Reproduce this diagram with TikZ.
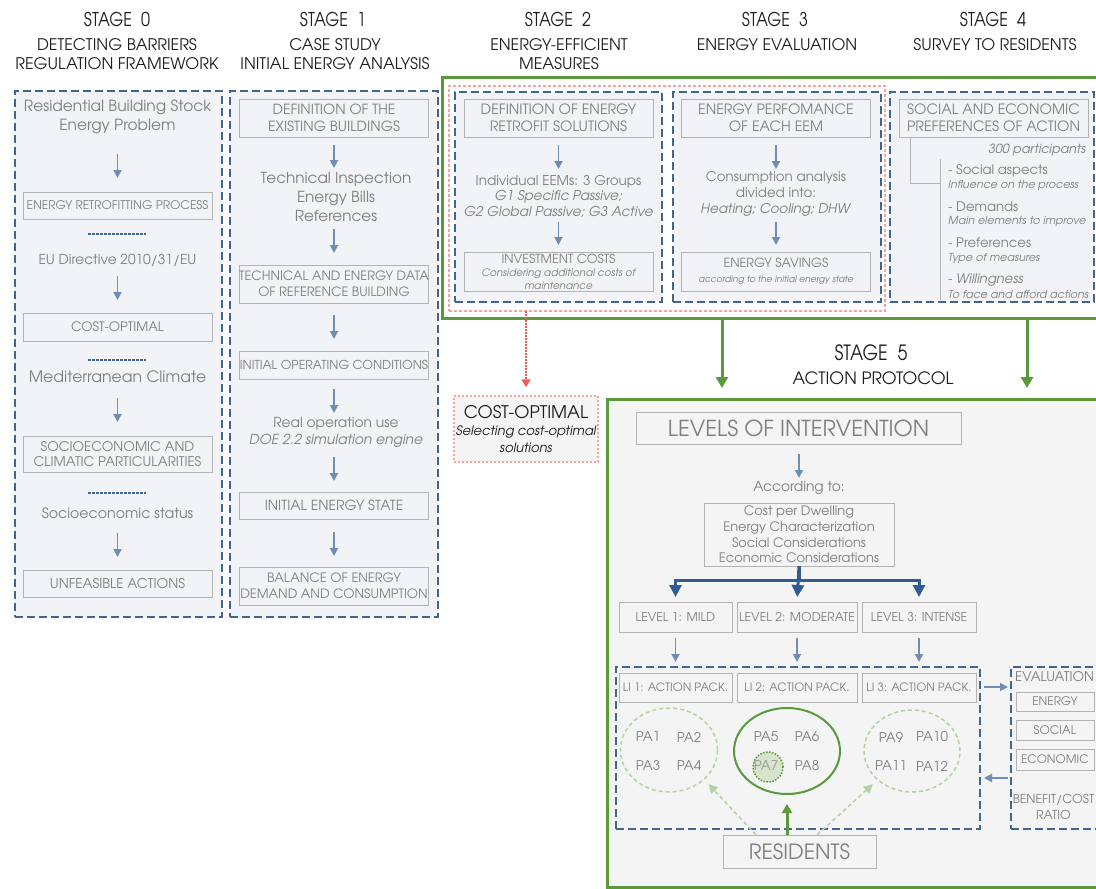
\documentclass[tikz,border=0pt]{standalone}
\usepackage{fontspec}
\setmainfont{TeX Gyre Adventor}
\newfontfamily\hdfont{TeX Gyre Adventor}[FakeStretch=0.85]
\usetikzlibrary{positioning,shapes.geometric,arrows.meta}

\newcommand{\fsz}[2]{\fontsize{#1}{#2}\selectfont}

\definecolor{panel}{HTML}{F2F3F7}
\definecolor{panelfive}{HTML}{F4F4F4}
\definecolor{dashblue}{HTML}{3F6591}
\definecolor{arrblue}{HTML}{6F8DB5}
\definecolor{forkblue}{HTML}{2F5D91}
\definecolor{grn}{HTML}{5A9A3C}
\definecolor{lightgrn}{HTML}{B5D1A3}
\definecolor{pagrn}{HTML}{D5E4CB}
\definecolor{salmon}{HTML}{F5A3A3}
\definecolor{redarr}{HTML}{F05A5A}
\definecolor{txt}{HTML}{7F7F7F}
\definecolor{boxline}{HTML}{B3B3B3}
\definecolor{ttl}{HTML}{1E1E1E}

\tikzset{
  panelbox/.style={draw=dashblue, line width=2pt, dash pattern=on 8pt off 4pt,
    fill=panel, inner sep=0pt, outer sep=0pt},
  ibox/.style={draw=boxline, line width=1pt, fill=panel, inner sep=0pt, outer sep=0pt,
    align=center, text=txt, minimum width=189pt, minimum height=27pt, font=\fsz{13}{15}},
  fivebox/.style={ibox, fill=panelfive},
  txtnode/.style={inner sep=0pt, outer sep=0pt, align=center, text=txt},
  stagehdr/.style={inner sep=0pt, align=center, text=ttl, font=\hdfont\fsz{19}{22}},
  stagesub/.style={inner sep=0pt, align=center, text=ttl, font=\fsz{16}{19}},
  sepline/.style={draw=dashblue, line width=1.2pt, dash pattern=on 2.5pt off 1.5pt},
  brk/.style={draw=boxline, line width=1pt},
  arr/.style={draw=arrblue, line width=1.8pt, -{Triangle[width=8pt,length=8pt]}},
  fork/.style={draw=forkblue, line width=3pt, -{Triangle[width=12pt,length=12pt]}},
  garr/.style={draw=grn, line width=3pt, -{Triangle[width=12pt,length=11pt]}},
  rarr/.style={draw=redarr, line width=1.5pt, dash pattern=on 1.5pt off 1.5pt,
    -{Triangle[width=9pt,length=8pt]}},
  larr/.style={draw=lightgrn, line width=1.5pt, dash pattern=on 4pt off 3pt,
    -{Triangle[width=9pt,length=9pt]}},
  pa/.style={inner sep=0pt, text=txt, font=\fsz{13.4}{15}},
  item/.style={inner sep=0pt, anchor=west, text=txt, font=\fsz{13.2}{15}},
  note/.style={inner sep=0pt, anchor=west, text=txt, font=\fsz{11}{12}\itshape},
}

\begin{document}
\begin{tikzpicture}[x=1pt,y=-1pt]
  \useasboundingbox (0,0) rectangle (1096,889);
  \clip (0,0) rectangle (1096,889);

  % stage titles
  \node[stagehdr] (h0) at (117,19) {STAGE\ \ 0};
  \node[stagesub] (h0s) at (117,54.5) {DETECTING BARRIERS\\REGULATION FRAMEWORK};
  \node[stagehdr] (h1) at (333,19) {STAGE\ \ 1};
  \node[stagesub] (h1s) at (335,54.5) {CASE STUDY\\INITIAL ENERGY ANALYSIS};
  \node[stagehdr] (h2) at (558,19) {STAGE\ \ 2};
  \node[stagesub] (h2s) at (559,54.5) {ENERGY-EFFICIENT\\MEASURES};
  \node[stagehdr] (h3) at (775,19) {STAGE\ \ 3};
  \node[stagesub] (h3s) at (777,45) {ENERGY EVALUATION};
  \node[stagehdr] (h4) at (993,19) {STAGE\ \ 4};
  \node[stagesub] (h4s) at (995,45) {SURVEY TO RESIDENTS};

  % stage 0
  \node[panelbox, minimum width=207pt, minimum height=526pt] (s0) at (118.5,354) {};
  \node[txtnode, font=\fsz{15.4}{19}, minimum height=40pt] (s0a) at (117.5,116.5)
    {Residential Building Stock\\Energy Problem};
  \node[ibox, font=\fsz{11.9}{13}] (s0b) at (117.5,205.5) {ENERGY RETROFITTING PROCESS};
  \draw[sepline] (88,234) -- (146,234);
  \node[txtnode, font=\fsz{13.7}{17}, minimum height=18pt] (s0c) at (117.5,260)
    {EU Directive 2010/31/EU};
  \node[ibox, minimum height=28pt] (s0d) at (117.5,327) {COST-OPTIMAL};
  \draw[sepline] (88,360) -- (146,360);
  \node[txtnode, font=\fsz{15.7}{19}, minimum height=20pt] (s0e) at (117.5,377)
    {Mediterranean Climate};
  \node[ibox, minimum height=36pt, font=\fsz{13.3}{15}] (s0f) at (117.5,454)
    {SOCIOECONOMIC AND\\CLIMATIC PARTICULARITIES};
  \draw[sepline] (88,493) -- (146,493);
  \node[txtnode, font=\fsz{14.2}{17}, minimum height=18pt] (s0g) at (117.5,513)
    {Socioeconomic status};
  \node[ibox, font=\fsz{13.5}{15}] (s0h) at (117.5,583.5) {UNFEASIBLE ACTIONS};
  \draw[arr, shorten <=17.5pt, shorten >=14pt] (s0a) -- (s0b);
  \draw[arr, shorten <=7pt, shorten >=13pt] (s0c) -- (s0d);
  \draw[arr, shorten <=11pt, shorten >=14pt] (s0e) -- (s0f);
  \draw[arr, shorten <=11pt, shorten >=13pt] (s0g) -- (s0h);

  % stage 1
  \node[panelbox, minimum width=208pt, minimum height=526pt] (s1) at (334,354) {};
  \node[ibox, minimum height=38pt, font=\fsz{14}{17}] (s1a) at (334,118)
    {DEFINITION OF THE\\EXISTING BUILDINGS};
  \node[txtnode, font=\fsz{15.2}{19}, minimum height=56pt] (s1b) at (336,197)
    {Technical Inspection\\Energy Bills\\References};
  \node[ibox, minimum height=38pt, font=\fsz{12.8}{16}] (s1c) at (334,284)
    {TECHNICAL AND ENERGY DATA\\OF REFERENCE BUILDING};
  \node[ibox, minimum height=28pt, font=\fsz{12.3}{14}] (s1d) at (334,365)
    {INITIAL OPERATING CONDITIONS};
  \node[txtnode, font=\fsz{13.8}{17}, minimum height=34pt] (s1e) at (336,432.5)
    {Real operation use\\\textit{DOE 2.2 simulation engine}};
  \node[ibox, font=\fsz{13.9}{15}] (s1f) at (334,505.5) {INITIAL ENERGY STATE};
  \node[ibox, minimum height=38pt, font=\fsz{12.9}{16}] (s1g) at (334,586)
    {BALANCE OF ENERGY\\DEMAND AND CONSUMPTION};
  \draw[arr, shorten <=8pt, shorten >=1pt] (s1a) -- (s1a |- s1b.north);
  \draw[arr, shorten <=4pt, shorten >=12pt] (s1a |- s1b.south) -- (s1c);
  \draw[arr, shorten <=12pt, shorten >=12pt] (s1c) -- (s1d);
  \draw[arr, shorten <=10pt, shorten >=2.5pt] (s1d) -- (s1d |- s1e.north);
  \draw[arr, shorten <=7.5pt, shorten >=11pt] (s1d |- s1e.south) -- (s1f);
  \draw[arr, shorten <=13pt, shorten >=11pt] (s1f) -- (s1g);

  % stages 2 to 4
  \node[draw=grn, line width=3pt, fill=white, inner sep=0pt, outer sep=0pt,
    minimum width=673pt, minimum height=241pt] (topbox) at (778.5,197.5) {};
  \node[draw=salmon, line width=1.5pt, dash pattern=on 3pt off 2pt, inner sep=0pt,
    outer sep=0pt, minimum width=436pt, minimum height=225pt] (salbox) at (667,198.5) {};
  \node[panelbox, minimum width=207pt, minimum height=210pt] (s2) at (558.5,197) {};
  \node[panelbox, minimum width=208pt, minimum height=210pt] (s3) at (777,197) {};
  \node[panelbox, minimum width=204pt, minimum height=210pt] (s4) at (992,197) {};

  \node[ibox, minimum height=38pt, font=\fsz{14.2}{17}] (s2a) at (558.5,118)
    {DEFINITION OF ENERGY\\RETROFIT SOLUTIONS};
  \node[txtnode, font=\fsz{13.5}{15.5}, minimum height=46pt] (s2b) at (558.5,196)
    {Individual EEMs: 3 Groups\\\textit{G1 Specific Passive;}\\\textit{G2 Global Passive; G3 Active}};
  \node[ibox, minimum height=39pt, font=\fsz{10.3}{13}\itshape] (s2c) at (558.5,271.5)
    {{\upshape\fsz{12.5}{14}INVESTMENT COSTS}\\Considering additional costs of\\maintenance};
  \draw[arr, shorten <=8pt, shorten >=4pt] (s2a) -- (s2b);
  \draw[arr, shorten <=3pt, shorten >=7pt] (s2b) -- (s2c);

  \node[ibox, minimum height=38pt, font=\fsz{14.2}{17}] (s3a) at (776,118)
    {ENERGY PERFOMANCE\\OF EACH EEM};
  \node[txtnode, font=\fsz{13.4}{16}, minimum height=46pt] (s3b) at (776,194)
    {Consumption analysis\\divided into:\\\textit{Heating; Cooling; DHW}};
  \node[ibox, minimum height=39pt, font=\fsz{9}{15}\itshape] (s3c) at (776,271.5)
    {{\upshape\fsz{12.6}{15}ENERGY SAVINGS}\\according to the initial energy state};
  \draw[arr, shorten <=8pt, shorten >=2pt] (s3a) -- (s3b);
  \draw[arr, shorten <=5pt, shorten >=7pt] (s3b) -- (s3c);

  \node[ibox, minimum height=38pt, font=\fsz{14.2}{17}] (s4a) at (993.5,118)
    {SOCIAL AND ECONOMIC\\PREFERENCES OF ACTION};
  \node[inner sep=0pt, anchor=east, text=txt, font=\fsz{12.6}{14}\itshape] (p300)
    at (1086,150) {300 participants};
  \draw[brk] ([xshift=11pt]s4a.south west) |- (940,183);
  \draw[brk] (940,159) -- (940,300);
  \node[item] (i1) at (948,171) {- Social aspects};
  \node[note] (n1) at (948,185) {Influence on the process};
  \node[item] (i2) at (948,207) {- Demands};
  \node[note] (n2) at (948,221) {Main elements to improve};
  \node[item] (i3) at (948,243) {- Preferences};
  \node[note] (n3) at (948,258) {Type of measures};
  \node[item] (i4) at (948,280) {- \textit{Willingness}};
  \node[note] (n4) at (948,295) {To face and afford actions};

  % cost-optimal
  \node[draw=salmon, line width=1.5pt, dash pattern=on 2pt off 2pt, fill=panelfive,
    inner sep=0pt, minimum width=144pt, minimum height=66pt, align=center, text=ttl,
    font=\fsz{13}{17}\itshape] (copt) at (526,429)
    {{\upshape\fsz{17.4}{19}COST-OPTIMAL}\\Selecting cost-optimal\\solutions};
  \draw[rarr, shorten >=8pt] (salbox.south -| copt) -- (copt.north);

  % stage 5
  \node[stagehdr, font=\hdfont\fsz{21}{22}] (h5) at (871,353) {STAGE\ \ 5};
  \node[stagesub, font=\fsz{17}{19}] (h5s) at (873,378) {ACTION PROTOCOL};
  \node[draw=grn, line width=3pt, fill=panelfive, inner sep=0pt, outer sep=0pt,
    minimum width=508pt, minimum height=488pt] (s5) at (861,643) {};
  \coordinate (ga) at (722,350);
  \coordinate (gb) at (1027,350);
  \draw[garr, shorten >=11pt] (topbox.south -| ga) -- (s5.north -| ga);
  \draw[garr, shorten >=11pt] (topbox.south -| gb) -- (s5.north -| gb);

  \node[fivebox, minimum width=325pt, minimum height=32pt, font=\fsz{22}{24}] (lvi)
    at (798.5,428) {LEVELS OF INTERVENTION};
  \node[txtnode, font=\fsz{13.8}{15}, minimum height=16pt] (acc) at (799,488) {According to:};
  \draw[arr, shorten <=10pt, shorten >=2pt] (lvi.south -| acc) -- (acc);
  \node[fivebox, minimum width=190pt, minimum height=63pt, font=\fsz{13}{15.7}] (crit)
    at (799,534.5)
    {Cost per Dwelling\\Energy Characterization\\Social Considerations\\Economic Considerations};

  \node[fivebox, minimum width=113pt, minimum height=30pt, font=\fsz{12.2}{14}] (lv1)
    at (675.5,617) {LEVEL 1: MILD};
  \node[fivebox, minimum width=120pt, minimum height=30pt, font=\fsz{12.2}{14}] (lv2)
    at (797,617) {LEVEL 2: MODERATE};
  \node[fivebox, minimum width=114pt, minimum height=30pt, font=\fsz{12.2}{14}] (lv3)
    at (919,617) {LEVEL 3: INTENSE};
  \draw[fork, shorten >=5pt] (crit.south) -- ++(0,14) -| (lv1.north);
  \draw[fork, shorten >=5pt] (crit.south) -- ++(0,14) -| (lv3.north);
  \draw[fork, shorten >=5pt] (crit.south) -- (lv2.north);

  \node[panelbox, fill=none, minimum width=364pt, minimum height=162pt] (pk) at (798,748) {};
  \node[fivebox, minimum width=113pt, minimum height=29pt, font=\fsz{11.5}{14}] (li1)
    at (675.5,687.5) {LI 1: ACTION PACK.};
  \node[fivebox, minimum width=120pt, minimum height=29pt, font=\fsz{11.5}{14}] (li2)
    at (797,687.5) {LI 2: ACTION PACK.};
  \node[fivebox, minimum width=114pt, minimum height=29pt, font=\fsz{11.5}{14}] (li3)
    at (919,687.5) {LI 3: ACTION PACK.};
  \draw[arr, shorten <=6pt, shorten >=11pt] (lv1) -- (li1);
  \draw[arr, shorten <=6pt, shorten >=11pt] (lv2) -- (li2);
  \draw[arr, shorten <=6pt, shorten >=11pt] (lv3) -- (li3);

  % action packages
  \node[ellipse, draw=lightgrn, line width=1.5pt, dash pattern=on 4pt off 3pt,
    minimum width=97pt, minimum height=84pt, inner sep=0pt] (el1) at (669,750) {};
  \node[ellipse, draw=grn, line width=2pt,
    minimum width=106pt, minimum height=86pt, inner sep=0pt] (el2) at (787,751) {};
  \node[ellipse, draw=lightgrn, line width=1.5pt, dash pattern=on 4pt off 3pt,
    minimum width=96pt, minimum height=82pt, inner sep=0pt] (el3) at (912,751) {};
  \node[circle, draw=grn, fill=pagrn, line width=1.5pt, dash pattern=on 1.5pt off 1.5pt,
    minimum size=30pt, inner sep=0pt] (c7) at (768,767) {};
  \node[pa] (pa1) at (648,737) {PA1};
  \node[pa] (pa2) at (689,737) {PA2};
  \node[pa] (pa3) at (648,766) {PA3};
  \node[pa] (pa4) at (689,766) {PA4};
  \node[pa] (pa5) at (766,737) {PA5};
  \node[pa] (pa6) at (807,737) {PA6};
  \node[pa, text=txt!80] (pa7) at (766,766) {PA7};
  \node[pa] (pa8) at (807,766) {PA8};
  \node[pa] (pa9) at (891,737) {PA9};
  \node[pa] (pa10) at (932,737) {PA10};
  \node[pa] (pa11) at (891,766) {PA11};
  \node[pa] (pa12) at (932,766) {PA12};

  \node[fivebox, minimum width=153pt, minimum height=33pt, font=\fsz{21}{22}] (res)
    at (799.5,851.5) {RESIDENTS};
  \draw[garr, -{Triangle[width=10pt,length=9pt]}, shorten >=9pt]
    (res.north -| el2.south) -- (el2.south);
  \draw[larr, shorten >=6pt] ([xshift=-43.5pt]res.north) -- (el1.-40);
  \draw[larr, shorten >=6pt] ([xshift=17.5pt]res.north) -- (el3.-140);

  % evaluation
  \node[panelbox, fill=none, minimum width=104pt, minimum height=162pt] (ev) at (1063,748) {};
  \node[inner sep=0pt, anchor=west, text=txt, font=\fsz{13.3}{14}] (evt) at (1015,677)
    {EVALUATION};
  \node[fivebox, minimum width=78pt, minimum height=19pt, font=\fsz{11.8}{13}] (en)
    at (1055,701.5) {ENERGY};
  \node[fivebox, minimum width=78pt, minimum height=20pt, font=\fsz{11.8}{13}] (so)
    at (1055,730) {SOCIAL};
  \node[fivebox, minimum width=78pt, minimum height=21pt, font=\fsz{11.7}{13}] (ec)
    at (1055,759.5) {ECONOMIC};
  \node[txtnode, font=\fsz{12.3}{16}] (bc) at (1053.5,807) {BENEFIT/COST\\RATIO};
  \coordinate (ea) at (995,687);
  \coordinate (eb) at (995,778);
  \draw[arr, shorten <=4pt, shorten >=3pt] (pk.east |- ea) -- (ev.west |- ea);
  \draw[arr, shorten <=3pt, shorten >=4pt] (ev.west |- eb) -- (pk.east |- eb);
\end{tikzpicture}
\end{document}
